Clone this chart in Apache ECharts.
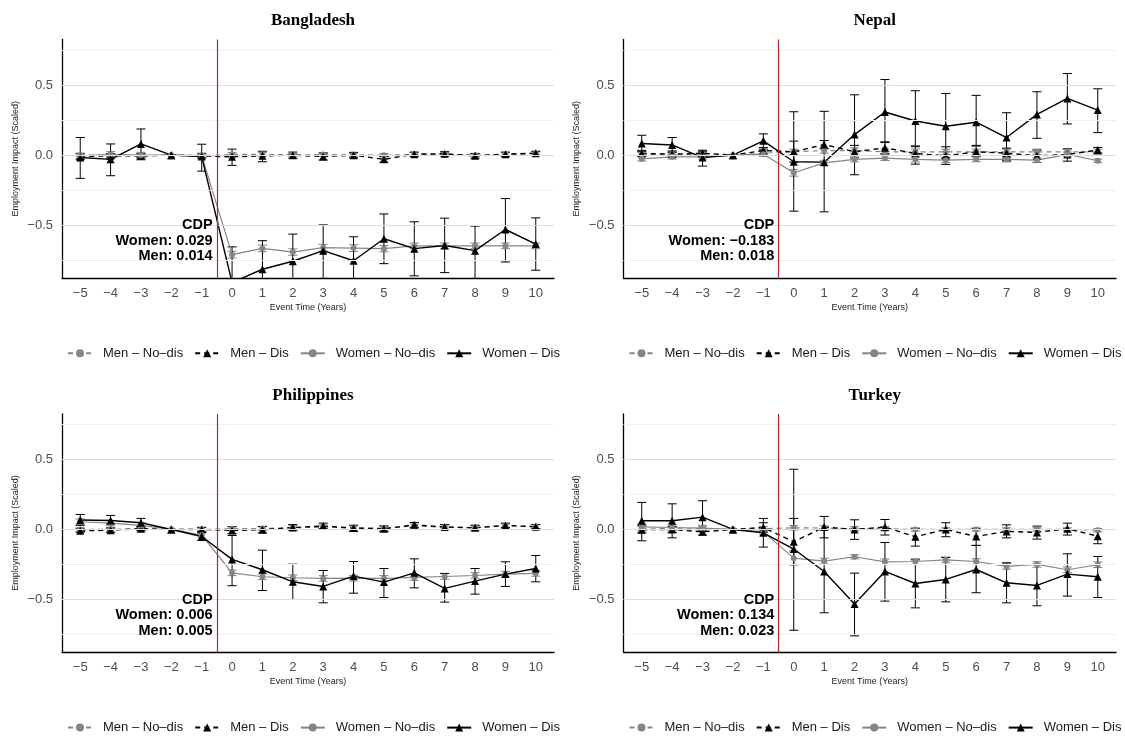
<!DOCTYPE html>
<html>
<head>
<meta charset="utf-8">
<script src="https://cdn.jsdelivr.net/npm/echarts@6/dist/echarts.min.js"></script>
<style>
  html, body { margin: 0; padding: 0; background: #fff; }
  #chart { width: 1125px; height: 736px; }
</style>
</head>
<body>
<div id="chart"></div>
<script>
// Event time in years relative to the disaster
const years = [-5, -4, -3, -2, -1, 0, 1, 2, 3, 4, 5, 6, 7, 8, 9, 10];

const countries = ['Bangladesh', 'Nepal', 'Philippines', 'Turkey'];
const cdpWomen = ['0.029', '−0.183', '0.006', '0.134'];
const cdpMen = ['0.014', '0.018', '0.005', '0.023'];

const groupNames = ['Men – No–dis', 'Men – Dis', 'Women – No–dis', 'Women – Dis'];
const yTicks = [-0.5, 0, 0.5];

// ---- Bangladesh ----
const bgdMenNoDis     = [0.000, 0.000, -0.005, 0, -0.005, 0.005, 0.005, 0.000, 0.005, 0.000, 0.000, 0.005, 0.005, 0.000, 0.005, 0.010];
const bgdMenNoDisLo   = [-0.012, -0.012, -0.017, 0, -0.017, -0.008, -0.008, -0.012, -0.008, -0.012, -0.012, -0.008, -0.008, -0.012, -0.008, -0.003];
const bgdMenNoDisHi   = [0.012, 0.012, 0.007, 0, 0.007, 0.018, 0.018, 0.012, 0.018, 0.012, 0.012, 0.018, 0.018, 0.012, 0.018, 0.023];
const bgdMenDis       = [-0.010, -0.005, -0.005, 0, -0.005, -0.012, -0.005, 0.000, -0.010, 0.000, -0.030, 0.007, 0.010, -0.005, 0.007, 0.014];
const bgdMenDisLo     = [-0.030, -0.020, -0.020, 0, -0.020, -0.073, -0.047, -0.022, -0.035, -0.020, -0.050, -0.008, -0.005, -0.022, -0.008, 0.000];
const bgdMenDisHi     = [0.010, 0.010, 0.010, 0, 0.010, 0.043, 0.028, 0.022, 0.015, 0.020, -0.010, 0.022, 0.025, 0.012, 0.022, 0.028];
const bgdWomenNoDis   = [-0.005, 0.005, 0.000, 0, -0.003, -0.711, -0.666, -0.692, -0.661, -0.664, -0.668, -0.648, -0.648, -0.648, -0.648, -0.648];
const bgdWomenNoDisLo = [-0.025, -0.015, -0.020, 0, -0.020, -0.735, -0.690, -0.715, -0.685, -0.688, -0.690, -0.668, -0.668, -0.668, -0.668, -0.668];
const bgdWomenNoDisHi = [0.015, 0.025, 0.020, 0, 0.015, -0.687, -0.642, -0.669, -0.637, -0.640, -0.646, -0.628, -0.628, -0.628, -0.628, -0.628];
const bgdWomenDis     = [-0.017, -0.030, 0.080, 0, -0.010, -0.910, -0.815, -0.758, -0.682, -0.754, -0.597, -0.668, -0.645, -0.682, -0.531, -0.635];
const bgdWomenDisLo   = [-0.166, -0.147, -0.033, 0, -0.114, -1.150, -1.020, -0.950, -0.880, -0.930, -0.775, -0.862, -0.839, -0.880, -0.763, -0.822];
const bgdWomenDisHi   = [0.126, 0.080, 0.187, 0, 0.078, -0.655, -0.611, -0.564, -0.498, -0.583, -0.420, -0.476, -0.450, -0.507, -0.310, -0.448];

// ---- Nepal ----
const npl_MenNoDis     = [0.007, 0.007, 0.000, 0, 0.014, 0.024, 0.033, 0.033, 0.024, 0.024, 0.024, 0.024, 0.024, 0.024, 0.024, 0.024];
const npl_MenNoDisLo   = [-0.010, -0.010, -0.017, 0, -0.003, 0.005, 0.014, 0.014, 0.005, 0.005, 0.005, 0.005, 0.005, 0.005, 0.005, 0.005];
const npl_MenNoDisHi   = [0.024, 0.024, 0.017, 0, 0.031, 0.043, 0.052, 0.052, 0.043, 0.043, 0.043, 0.043, 0.043, 0.043, 0.043, 0.043];
const npl_MenDis       = [0.012, 0.007, 0.014, 0, 0.033, 0.024, 0.076, 0.024, 0.052, 0.012, -0.005, 0.024, 0.014, -0.005, 0.005, 0.036];
const npl_MenDisLo     = [-0.010, -0.015, -0.010, 0, 0.010, -0.050, 0.045, -0.020, 0.010, -0.064, -0.066, -0.010, -0.020, -0.052, -0.043, 0.015];
const npl_MenDisHi     = [0.034, 0.030, 0.035, 0, 0.055, 0.100, 0.104, 0.070, 0.095, 0.060, 0.060, 0.065, 0.050, 0.036, 0.045, 0.055];
const npl_WomenNoDis   = [-0.026, -0.012, -0.012, 0, 0.007, -0.126, -0.055, -0.030, -0.021, -0.030, -0.036, -0.030, -0.030, -0.036, 0.005, -0.040];
const npl_WomenNoDisLo = [-0.042, -0.028, -0.028, 0, -0.009, -0.150, -0.073, -0.048, -0.038, -0.048, -0.054, -0.047, -0.048, -0.053, -0.012, -0.052];
const npl_WomenNoDisHi = [-0.010, 0.004, 0.004, 0, 0.023, -0.102, -0.037, -0.012, -0.004, -0.012, -0.018, -0.013, -0.012, -0.019, 0.022, -0.028];
const npl_WomenDis     = [0.083, 0.073, -0.017, 0, 0.102, -0.047, -0.050, 0.147, 0.308, 0.244, 0.206, 0.235, 0.126, 0.291, 0.405, 0.322];
const npl_WomenDisLo   = [0.024, 0.020, -0.078, 0, 0.043, -0.400, -0.405, -0.140, 0.090, 0.066, -0.020, 0.070, -0.040, 0.120, 0.223, 0.161];
const npl_WomenDisHi   = [0.142, 0.126, 0.028, 0, 0.152, 0.310, 0.313, 0.431, 0.540, 0.460, 0.440, 0.427, 0.303, 0.453, 0.583, 0.474];

// ---- Philippines ----
const phlMenNoDis     = [0.000, 0.000, 0.005, 0, 0.000, 0.005, 0.007, 0.012, 0.017, 0.010, 0.010, 0.024, 0.017, 0.014, 0.024, 0.021];
const phlMenNoDisLo   = [-0.013, -0.013, -0.008, 0, -0.013, -0.010, -0.008, -0.003, 0.002, -0.005, -0.005, 0.009, 0.002, -0.001, 0.009, 0.006];
const phlMenNoDisHi   = [0.013, 0.013, 0.018, 0, 0.013, 0.020, 0.022, 0.027, 0.032, 0.025, 0.025, 0.039, 0.032, 0.029, 0.039, 0.036];
const phlMenDis       = [-0.010, -0.005, 0.005, 0, 0.000, -0.007, -0.002, 0.014, 0.024, 0.010, 0.005, 0.033, 0.017, 0.012, 0.029, 0.019];
const phlMenDisLo     = [-0.020, -0.020, -0.010, 0, -0.015, -0.030, -0.025, -0.005, 0.005, -0.015, -0.015, 0.015, 0.000, -0.005, 0.015, 0.005];
const phlMenDisHi     = [0.005, 0.010, 0.020, 0, 0.015, 0.020, 0.020, 0.035, 0.045, 0.030, 0.025, 0.050, 0.035, 0.030, 0.045, 0.035];
const phlWomenNoDis   = [0.055, 0.045, 0.029, 0, -0.040, -0.310, -0.338, -0.345, -0.350, -0.348, -0.350, -0.343, -0.336, -0.329, -0.319, -0.314];
const phlWomenNoDisLo = [0.035, 0.025, 0.009, 0, -0.060, -0.330, -0.358, -0.365, -0.370, -0.368, -0.370, -0.363, -0.356, -0.349, -0.339, -0.334];
const phlWomenNoDisHi = [0.075, 0.065, 0.049, 0, -0.020, -0.290, -0.318, -0.325, -0.330, -0.328, -0.330, -0.323, -0.316, -0.309, -0.299, -0.294];
const phlWomenDis     = [0.067, 0.064, 0.048, 0, -0.050, -0.214, -0.288, -0.374, -0.407, -0.333, -0.376, -0.310, -0.421, -0.369, -0.319, -0.279];
const phlWomenDisLo   = [0.029, 0.038, 0.017, 0, -0.079, -0.402, -0.436, -0.500, -0.524, -0.455, -0.486, -0.417, -0.519, -0.462, -0.407, -0.374];
const phlWomenDisHi   = [0.107, 0.100, 0.079, 0, -0.021, -0.043, -0.148, -0.248, -0.293, -0.229, -0.279, -0.210, -0.314, -0.279, -0.231, -0.186];

// ---- Turkey ----
const turMenNoDis     = [0.005, 0.005, 0.005, 0, 0.005, 0.012, 0.010, 0.005, 0.005, 0.000, 0.000, 0.000, 0.000, 0.000, 0.000, -0.005];
const turMenNoDisLo   = [-0.010, -0.010, -0.010, 0, -0.010, -0.004, -0.006, -0.010, -0.010, -0.012, -0.012, -0.012, -0.012, -0.012, -0.012, -0.017];
const turMenNoDisHi   = [0.020, 0.020, 0.020, 0, 0.020, 0.028, 0.026, 0.020, 0.020, 0.012, 0.012, 0.012, 0.012, 0.012, 0.012, 0.007];
const turMenDis       = [-0.002, 0.000, -0.017, 0, 0.014, -0.088, 0.017, 0.000, 0.017, -0.052, 0.000, -0.050, -0.014, -0.021, 0.005, -0.048];
const turMenDisLo     = [-0.025, -0.022, -0.040, 0, -0.020, -0.250, -0.060, -0.071, -0.040, -0.119, -0.052, -0.114, -0.060, -0.069, -0.040, -0.102];
const turMenDisHi     = [0.030, 0.022, 0.006, 0, 0.048, 0.079, 0.093, 0.069, 0.071, 0.005, 0.048, 0.005, 0.033, 0.024, 0.045, 0.000];
const turWomenNoDis   = [0.019, 0.014, 0.010, 0, -0.017, -0.205, -0.226, -0.195, -0.231, -0.229, -0.217, -0.229, -0.264, -0.250, -0.288, -0.252];
const turWomenNoDisLo = [-0.001, -0.006, -0.010, 0, -0.037, -0.255, -0.246, -0.210, -0.251, -0.249, -0.237, -0.249, -0.284, -0.270, -0.308, -0.272];
const turWomenNoDisHi = [0.039, 0.034, 0.030, 0, 0.003, -0.155, -0.206, -0.180, -0.211, -0.209, -0.197, -0.209, -0.244, -0.230, -0.268, -0.232];
const turWomenDis     = [0.062, 0.062, 0.088, 0, -0.024, -0.140, -0.300, -0.533, -0.300, -0.386, -0.357, -0.286, -0.381, -0.400, -0.319, -0.338];
const turWomenDisLo   = [-0.081, -0.060, -0.012, 0, -0.126, -0.720, -0.595, -0.760, -0.512, -0.560, -0.517, -0.452, -0.524, -0.545, -0.476, -0.486];
const turWomenDisHi   = [0.193, 0.183, 0.205, 0, 0.079, 0.430, 0.000, -0.312, -0.093, -0.217, -0.200, -0.114, -0.238, -0.248, -0.174, -0.193];

const panelEst = [
  [bgdMenNoDis, bgdMenDis, bgdWomenNoDis, bgdWomenDis],
  [npl_MenNoDis, npl_MenDis, npl_WomenNoDis, npl_WomenDis],
  [phlMenNoDis, phlMenDis, phlWomenNoDis, phlWomenDis],
  [turMenNoDis, turMenDis, turWomenNoDis, turWomenDis]
];
const panelLo = [
  [bgdMenNoDisLo, bgdMenDisLo, bgdWomenNoDisLo, bgdWomenDisLo],
  [npl_MenNoDisLo, npl_MenDisLo, npl_WomenNoDisLo, npl_WomenDisLo],
  [phlMenNoDisLo, phlMenDisLo, phlWomenNoDisLo, phlWomenDisLo],
  [turMenNoDisLo, turMenDisLo, turWomenNoDisLo, turWomenDisLo]
];
const panelHi = [
  [bgdMenNoDisHi, bgdMenDisHi, bgdWomenNoDisHi, bgdWomenDisHi],
  [npl_MenNoDisHi, npl_MenDisHi, npl_WomenNoDisHi, npl_WomenDisHi],
  [phlMenNoDisHi, phlMenDisHi, phlWomenNoDisHi, phlWomenDisHi],
  [turMenNoDisHi, turMenDisHi, turWomenNoDisHi, turWomenDisHi]
];

// visual encoding of the four groups
const GREY = '#858585';
const groupStyle = [
  { color: GREY,   dashed: true,  symbol: 'circle',   size: 6, width: 1.2 },
  { color: '#000', dashed: true,  symbol: 'triangle', size: 8, width: 1.4 },
  { color: GREY,   dashed: false, symbol: 'circle',   size: 6, width: 1.2 },
  { color: '#000', dashed: false, symbol: 'triangle', size: 8, width: 1.4 }
];

const FONT = "'Liberation Sans', Arial, sans-serif";
const minus = s => String(s).replace('-', '−');

// panel frames
const panelBoxes = [
  { left: 62,    top: 39.5,  width: 492,   height: 238.3 },
  { left: 623.5, top: 39.5,  width: 492.5, height: 238.3 },
  { left: 62,    top: 413.8, width: 492,   height: 238.3 },
  { left: 623.5, top: 413.8, width: 492.5, height: 238.3 }
];

const chart = echarts.init(document.getElementById('chart'), null, { renderer: 'canvas' });

const grids = [], xAxes = [], yAxes = [], titles = [], legends = [], series = [];

function errorBarRenderer(color) {
  return function (params, api) {
    const x = api.value(0), lo = api.value(1), hi = api.value(2);
    const top = api.coord([x, hi]);
    const bot = api.coord([x, lo]);
    const l = api.coord([x - 0.15, hi])[0];
    const r = api.coord([x + 0.15, hi])[0];
    const style = { stroke: color, lineWidth: 1, fill: null };
    return {
      type: 'group',
      children: [
        { type: 'line', shape: { x1: top[0], y1: top[1], x2: bot[0], y2: bot[1] }, style },
        { type: 'line', shape: { x1: l, y1: top[1], x2: r, y2: top[1] }, style },
        { type: 'line', shape: { x1: l, y1: bot[1], x2: r, y2: bot[1] }, style }
      ]
    };
  };
}

countries.forEach((country, p) => {
  const box = panelBoxes[p];
  grids.push({ left: box.left, top: box.top, width: box.width, height: box.height, containLabel: false });

  xAxes.push({
    type: 'value', gridIndex: p, min: -5.6, max: 10.6,
    axisLine: { show: true, onZero: false, lineStyle: { color: '#000', width: 1.3 } },
    axisTick: { show: false },
    splitLine: { show: false },
    axisLabel: {
      customValues: years, formatter: v => minus(v),
      color: '#4d4d4d', fontSize: 13, margin: 9, fontFamily: FONT
    },
    name: 'Event Time (Years)', nameLocation: 'middle', nameGap: 25,
    nameTextStyle: { fontSize: 9, color: '#1a1a1a', fontFamily: FONT }
  });

  yAxes.push({
    type: 'value', gridIndex: p, min: -0.876, max: 0.826,
    axisLine: { show: true, onZero: false, lineStyle: { color: '#000', width: 1.3 } },
    axisTick: { show: false },
    splitLine: { show: false },
    axisLabel: {
      customValues: yTicks, formatter: v => minus(v.toFixed(1)),
      color: '#4d4d4d', fontSize: 13, margin: 9, fontFamily: FONT
    },
    name: 'Employment Impact (Scaled)', nameLocation: 'middle', nameGap: 42,
    nameTextStyle: { fontSize: 9, color: '#1a1a1a', fontFamily: FONT }
  });

  titles.push({
    text: country, left: box.left + box.width / 2, top: box.top - 32, textAlign: 'center',
    textStyle: { fontFamily: "'Liberation Serif', 'Times New Roman', serif", fontWeight: 'bold', fontSize: 17, color: '#000' }
  });

  legends.push({
    left: box.left + 5, top: box.top + box.height + 69, padding: 0,
    width: 540, orient: 'horizontal',
    itemWidth: 24, itemHeight: 10, itemGap: 11,
    data: groupNames,
    textStyle: { fontSize: 13, color: '#1a1a1a', fontFamily: FONT, padding: [0, 0, 0, 6] }
  });

  // background grid lines, event marker and CDP note
  const minor = { lineStyle: { color: '#f0f0f0', width: 1, type: 'solid' } };
  const major = { lineStyle: { color: '#dedede', width: 1, type: 'solid' } };
  series.push({
    type: 'line', xAxisIndex: p, yAxisIndex: p, data: [], silent: true, z: 1,
    markLine: {
      silent: true, symbol: 'none', label: { show: false }, animation: false,
      data: [
        Object.assign({ yAxis: -0.75 }, minor),
        Object.assign({ yAxis: -0.25 }, minor),
        Object.assign({ yAxis: 0.25 }, minor),
        Object.assign({ yAxis: 0.75 }, minor),
        Object.assign({ yAxis: -0.5 }, major),
        Object.assign({ yAxis: 0 }, major),
        Object.assign({ yAxis: 0.5 }, major),
        { xAxis: -0.5, lineStyle: { color: '#b3262c', width: 1.2, type: 'solid' } }
      ]
    },
    markPoint: {
      silent: true, animation: false,
      data: [{
        coord: [-0.64, -0.612], symbolSize: 0,
        label: {
          show: true, position: 'left', distance: 0,
          formatter: 'CDP\nWomen: ' + cdpWomen[p] + '\nMen: ' + cdpMen[p],
          fontFamily: FONT, fontWeight: 'bold', fontSize: 14.5, lineHeight: 15.5,
          color: '#000', align: 'right'
        }
      }]
    }
  });

  groupNames.forEach((name, g) => {
    const st = groupStyle[g];
    const est = panelEst[p][g], lo = panelLo[p][g], hi = panelHi[p][g];
    series.push({
      name, type: 'line', xAxisIndex: p, yAxisIndex: p, z: 3,
      data: years.map((yr, i) => [yr, est[i]]),
      symbol: st.symbol, symbolSize: st.size, showSymbol: true,
      lineStyle: { color: st.color, width: st.width, type: st.dashed ? [5, 4] : 'solid' },
      itemStyle: { color: st.color },
      clip: true, animation: false, silent: true
    });
    series.push({
      name, type: 'custom', xAxisIndex: p, yAxisIndex: p, z: 3,
      data: years.map((yr, i) => [yr, lo[i], hi[i]]),
      renderItem: errorBarRenderer(st.color),
      clip: true, animation: false, silent: true
    });
  });
});

chart.setOption({
  backgroundColor: '#fff',
  animation: false,
  textStyle: { fontFamily: FONT },
  title: titles,
  legend: legends,
  grid: grids,
  xAxis: xAxes,
  yAxis: yAxes,
  series
});
</script>
</body>
</html>
